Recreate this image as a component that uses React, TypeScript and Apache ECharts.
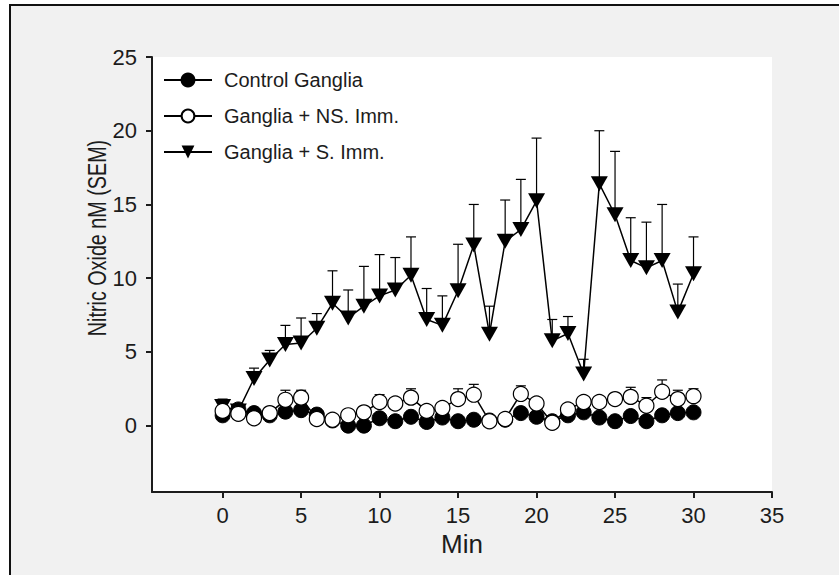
import React, { useEffect, useRef } from "react";
import * as echarts from "echarts";

const minutes = [0, 1, 2, 3, 4, 5, 6, 7, 8, 9, 10, 11, 12, 13, 14, 15, 16, 17, 18, 19, 20, 21, 22, 23, 24, 25, 26, 27, 28, 29, 30];

const controlMean = [0.7, 1.1, 0.85, 0.7, 0.95, 1.05, 0.75, 0.35, 0.0, 0.0, 0.5, 0.3, 0.6, 0.25, 0.55, 0.3, 0.4, 0.35, 0.4, 0.85, 0.6, 0.3, 0.7, 0.9, 0.55, 0.3, 0.65, 0.3, 0.7, 0.85, 0.9];

const nsMean = [1.0, 0.8, 0.5, 0.85, 1.75, 1.9, 0.45, 0.4, 0.7, 0.9, 1.6, 1.5, 1.9, 1.0, 1.2, 1.8, 2.1, 0.3, 0.45, 2.15, 1.5, 0.2, 1.1, 1.6, 1.6, 1.8, 1.95, 1.35, 2.3, 1.8, 2.0];
const nsSem = [0.3, 0.2, 0.2, 0.2, 0.65, 0.5, 0.2, 0.2, 0.2, 0.2, 0.5, 0.3, 0.6, 0.2, 0.3, 0.7, 0.7, 0.2, 0.2, 0.55, 0.3, 0.2, 0.3, 0.3, 0.3, 0.3, 0.65, 0.55, 0.8, 0.6, 0.5];

const sMean = [1.3, 1.0, 3.2, 4.45, 5.5, 5.6, 6.6, 8.3, 7.3, 8.1, 8.8, 9.2, 10.2, 7.2, 6.8, 9.15, 12.25, 6.2, 12.5, 13.3, 15.25, 5.75, 6.25, 3.5, 16.4, 14.3, 11.2, 10.7, 11.2, 7.7, 10.3];
const sSem = [0.5, 0.3, 0.7, 0.65, 1.3, 1.7, 1.0, 2.2, 1.9, 2.7, 2.8, 2.2, 2.6, 2.1, 2.0, 3.15, 2.75, 1.9, 2.8, 3.4, 4.25, 1.45, 1.15, 1.0, 3.6, 4.3, 2.9, 3.1, 3.8, 1.9, 2.5];

const xTicks = [0, 5, 10, 15, 20, 25, 30, 35];
const yTicks = [0, 5, 10, 15, 20, 25];

const seriesNames = ["Control Ganglia", "Ganglia + NS. Imm.", "Ganglia + S. Imm."];

const FONT = "'Liberation Sans', Arial, Helvetica, sans-serif";
const INK = "#1c1c1c";

function pairs(vals: number[]) {
  return minutes.map((m, i) => [m, vals[i]]);
}
function errTriples(vals: number[], errs: number[]) {
  return minutes.map((m, i) => [m, vals[i], errs[i]]);
}

function errorBarSeries(data: number[][]) {
  return {
    type: "custom",
    silent: true,
    z: 1,
    data,
    encode: { x: 0, y: 1 },
    renderItem: (params: any, api: any) => {
      const x = api.value(0);
      const y = api.value(1);
      const e = api.value(2);
      const p0 = api.coord([x, y]);
      const p1 = api.coord([x, y + e]);
      return {
        type: "group",
        children: [
          { type: "line", shape: { x1: p0[0], y1: p0[1], x2: p1[0], y2: p1[1] }, style: { stroke: "#000", lineWidth: 1.2 } },
          { type: "line", shape: { x1: p1[0] - 5, y1: p1[1], x2: p1[0] + 5, y2: p1[1] }, style: { stroke: "#000", lineWidth: 1.2 } },
        ],
      };
    },
  };
}

export default function App() {
  const ref = useRef<HTMLDivElement>(null);

  useEffect(() => {
    if (!ref.current) return;
    const chart = echarts.init(ref.current, null, { renderer: "svg" });
    const axisCommon = {
      type: "value",
      splitLine: { show: false },
      axisLine: { show: true, onZero: false, lineStyle: { color: INK, width: 2 } },
      axisTick: { show: true, inside: false, length: 6, lineStyle: { color: INK, width: 2 } },
    };
    chart.setOption({
      animation: false,
      backgroundColor: "transparent",
      textStyle: { fontFamily: FONT },
      grid: {
        left: 152,
        top: 57,
        width: 620,
        height: 435,
        show: true,
        backgroundColor: "#ffffff",
        borderWidth: 0,
        containLabel: false,
      },
      legend: {
        data: seriesNames,
        orient: "vertical",
        left: 163,
        top: 70,
        padding: 0,
        itemWidth: 48,
        itemHeight: 16,
        itemGap: 16,
        textStyle: { fontSize: 20, color: INK, fontFamily: FONT, padding: [0, 0, 0, 7] },
        selectedMode: false,
      },
      xAxis: {
        ...axisCommon,
        min: -4.5,
        max: 35,
        name: "Min",
        nameLocation: "middle",
        nameGap: 36,
        nameTextStyle: { fontSize: 26, color: INK, fontFamily: FONT },
        axisTick: { ...axisCommon.axisTick, customValues: xTicks },
        axisLabel: { customValues: xTicks, fontSize: 22, color: INK, margin: 12, fontFamily: FONT },
      },
      yAxis: {
        ...axisCommon,
        min: -4.5,
        max: 25,
        axisTick: { ...axisCommon.axisTick, customValues: yTicks },
        axisLabel: { customValues: yTicks, fontSize: 22, color: INK, margin: 15, fontFamily: FONT },
      },
      graphic: [
        {
          type: "text",
          x: 97,
          y: 238,
          rotation: Math.PI / 2,
          scaleX: 0.76,
          scaleY: 1,
          style: {
            text: "Nitric Oxide nM (SEM)",
            fill: INK,
            fontSize: 26,
            fontFamily: FONT,
            textAlign: "center",
            textVerticalAlign: "middle",
          },
        },
      ],
      series: [
        errorBarSeries(errTriples(sMean, sSem)),
        errorBarSeries(errTriples(nsMean, nsSem)),
        {
          name: seriesNames[0],
          type: "line",
          z: 3,
          data: pairs(controlMean),
          symbol: "circle",
          symbolSize: 15,
          showAllSymbol: true,
          lineStyle: { color: "#000", width: 1.5 },
          itemStyle: { color: "#000", borderColor: "#000", borderWidth: 1 },
        },
        {
          name: seriesNames[1],
          type: "line",
          z: 4,
          data: pairs(nsMean),
          symbol: "circle",
          symbolSize: 15,
          showAllSymbol: true,
          lineStyle: { color: "#000", width: 1.5 },
          itemStyle: { color: "#fff", borderColor: "#000", borderWidth: 1.2 },
        },
        {
          name: seriesNames[2],
          type: "line",
          z: 2,
          data: pairs(sMean),
          symbol: "triangle",
          symbolRotate: 180,
          symbolSize: [17, 15],
          showAllSymbol: true,
          lineStyle: { color: "#000", width: 1.5 },
          itemStyle: { color: "#000", borderColor: "#000", borderWidth: 0 },
        },
      ],
    });
    return () => chart.dispose();
  }, []);

  return (
    <div style={{ position: "fixed", left: 0, top: 0, width: 839, height: 575, background: "#fff", overflow: "hidden" }}>
      <div
        style={{
          position: "absolute",
          left: 9,
          top: 4,
          width: 860,
          height: 600,
          background: "#f1f1f1",
          border: "2.5px solid #111",
          boxSizing: "border-box",
        }}
      />
      <div ref={ref} style={{ position: "absolute", left: 0, top: 0, width: 839, height: 575 }} />
    </div>
  );
}
